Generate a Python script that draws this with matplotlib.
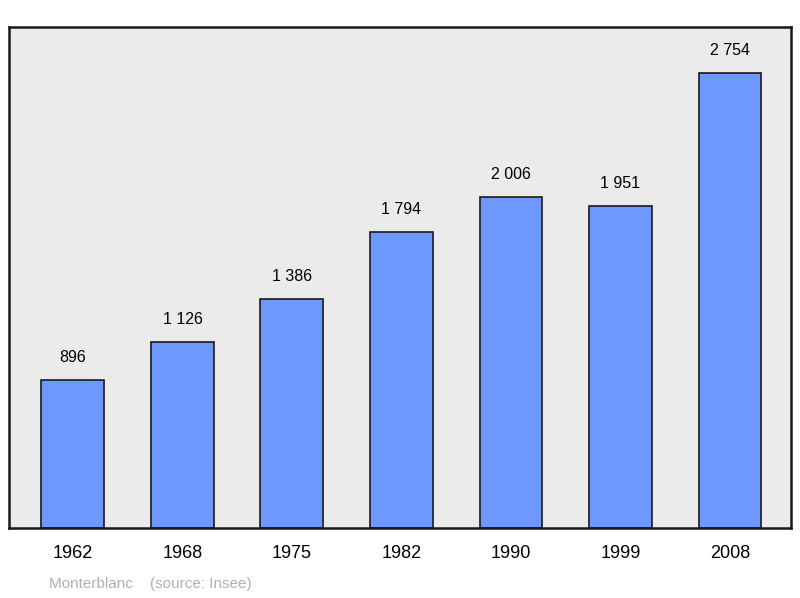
import matplotlib
matplotlib.use("Agg")
import matplotlib.pyplot as plt

years = ["1962", "1968", "1975", "1982", "1990", "1999", "2008"]
population = [896, 1126, 1386, 1794, 2006, 1951, 2754]
labels = ["896", "1 126", "1 386", "1 794", "2 006", "1 951", "2 754"]

plt.rcParams['font.family'] = ['Liberation Sans', 'DejaVu Sans']
fig = plt.figure(figsize=(8, 5.98), dpi=100)
ax = fig.add_axes([9/800, 1-528/598, 782/800, 501/598])
ax.set_facecolor('#ebebeb')
x = list(range(len(years)))
ax.bar(x, population, width=0.575, color='#6f98ff', edgecolor='#1a1a1a', linewidth=1.2, zorder=2)
for xi, v, l in zip(x, population, labels):
    ax.text(xi, v + 90, l, ha='center', va='bottom', fontsize=11.5)
ax.set_xlim(-0.584, 6.557)
ax.set_ylim(0, 3032)
ax.set_yticks([])
ax.set_xticks(x)
ax.set_xticklabels(years, fontsize=13)
ax.tick_params(axis='x', length=0, pad=12)
for s in ax.spines.values():
    s.set_linewidth(1.8)
    s.set_color('#1a1a1a')
fig.text(49/800, 1-584/598, "Monterblanc    (source: Insee)", fontsize=11, color='#b0b0b0', va='center')
fig.savefig("out.png", dpi=100)
